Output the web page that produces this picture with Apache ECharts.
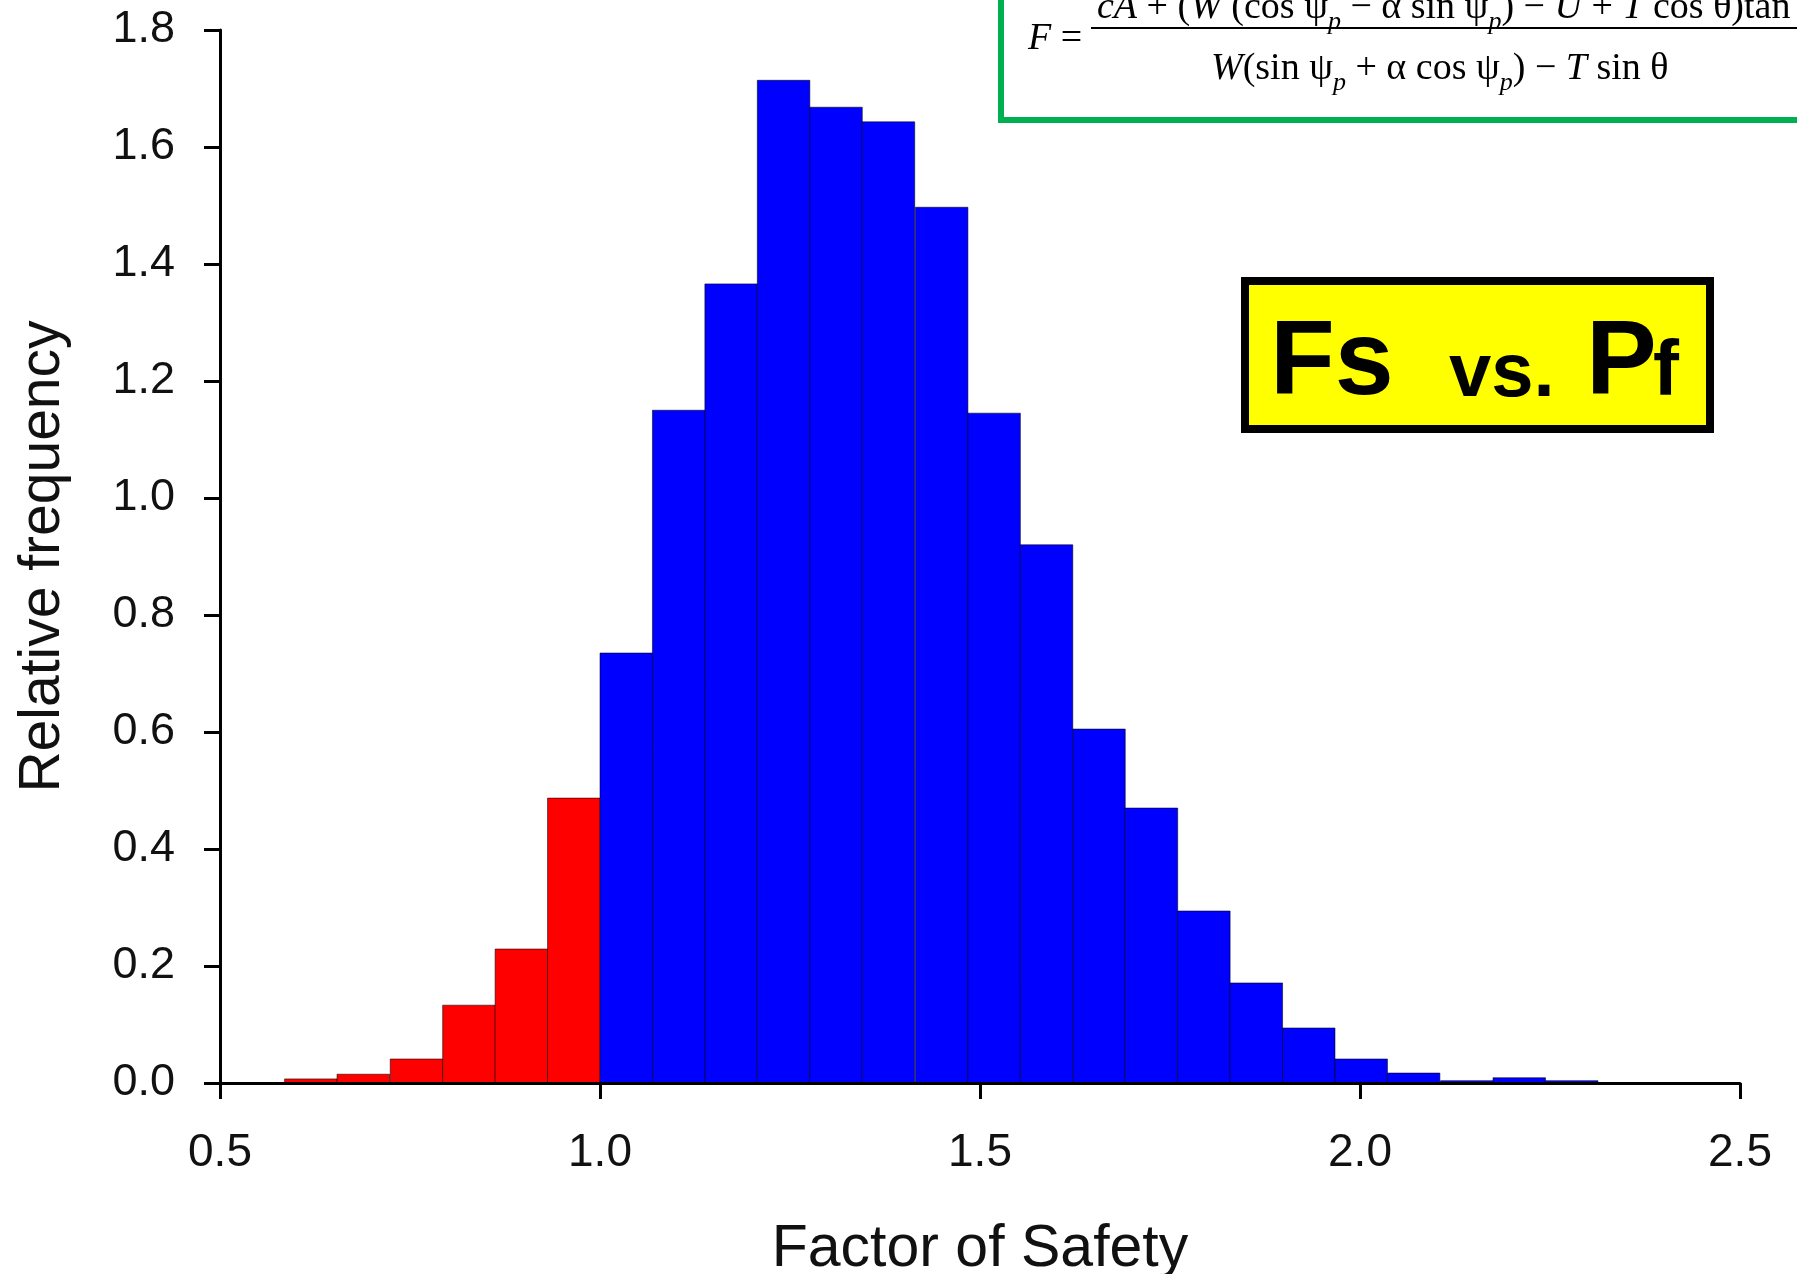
<!DOCTYPE html>
<html>
<head>
<meta charset="utf-8">
<script src="https://cdn.jsdelivr.net/npm/echarts@6/dist/echarts.min.js"></script>
<style>
html,body{margin:0;padding:0;background:#fff}
#main{width:1797px;height:1274px}
</style>
</head>
<body>
<div id="main"></div>
<script>
// histogram of factor of safety, bins
var binStarts = [0.585, 0.654, 0.724, 0.793, 0.862, 0.931, 1.000, 1.069, 1.138, 1.207,
                 1.276, 1.345, 1.415, 1.484, 1.553, 1.622, 1.691, 1.760, 1.829, 1.898,
                 1.967, 2.036, 2.106, 2.175, 2.244];
var binWidth = 0.0691;
var relFreq = [0.007, 0.015, 0.041, 0.133, 0.229, 0.487, 0.735, 1.150, 1.366, 1.714,
               1.668, 1.643, 1.497, 1.145, 0.920, 0.605, 0.470, 0.294, 0.171, 0.094,
               0.041, 0.017, 0.004, 0.009, 0.004];
var failLimit = 1.0;   // Fs < 1 -> failure (red)

var sans = "'Liberation Sans', Arial, Helvetica, sans-serif";
var serif = "'Liberation Serif', 'Times New Roman', serif";

var chart = echarts.init(document.getElementById('main'));

var data = binStarts.map(function (s, i) { return [s, s + binWidth, relFreq[i]]; });

// middle-aligned text, y given as baseline
function midY(baseline, size) { return baseline - 0.3465 * size; }

var fracRich = {
    n: {fontFamily: serif, fontSize: 38, lineHeight: 38, verticalAlign: 'top', color: '#000'},
    i: {fontFamily: serif, fontSize: 38, lineHeight: 38, verticalAlign: 'top', fontStyle: 'italic', color: '#000'},
    s: {fontFamily: serif, fontSize: 26, lineHeight: 46, verticalAlign: 'bottom', fontStyle: 'italic', color: '#000'}
};

chart.setOption({
    backgroundColor: '#fff',
    animation: false,
    grid: {left: 220, right: 57, top: 30, bottom: 191, outerBoundsMode: 'none', containLabel: false},
    xAxis: {
        type: 'value', min: 0.5, max: 2.5, interval: 0.5, z: 10,
        name: 'Factor of Safety', nameLocation: 'middle', nameGap: 137,
        nameTextStyle: {fontFamily: sans, fontSize: 59, color: '#111'},
        axisLine: {lineStyle: {color: '#000', width: 3}},
        axisTick: {length: 16, lineStyle: {color: '#000', width: 3}},
        axisLabel: {fontFamily: sans, fontSize: 46, color: '#111', margin: 47,
            formatter: function (v) { return v.toFixed(1); }},
        splitLine: {show: false}
    },
    yAxis: {
        type: 'value', min: 0, max: 1.8, interval: 0.2, z: 10,
        name: 'Relative frequency', nameLocation: 'middle', nameGap: 148,
        nameTextStyle: {fontFamily: sans, fontSize: 57, color: '#111'},
        axisLine: {show: true, lineStyle: {color: '#000', width: 3}},
        axisTick: {show: true, length: 16, lineStyle: {color: '#000', width: 3}},
        axisLabel: {fontFamily: sans, fontSize: 45, color: '#111', margin: 45,
            formatter: function (v) { return v.toFixed(1); }},
        splitLine: {show: false}
    },
    series: [{
        type: 'custom',
        data: data,
        encode: {x: [0, 1], y: 2},
        renderItem: function (params, api) {
            var p0 = api.coord([api.value(0), api.value(2)]);
            var p1 = api.coord([api.value(1), 0]);
            var failed = api.value(0) < failLimit - 0.01;
            return {
                type: 'rect',
                shape: {x: p0[0], y: p0[1], width: p1[0] - p0[0], height: p1[1] - p0[1]},
                style: {fill: failed ? '#ff0000' : '#0000ff', stroke: 'rgba(0,0,0,0.55)', lineWidth: 1}
            };
        }
    }],
    graphic: [
        // formula box (runs off the top and right edge)
        {type: 'rect', z: 20, shape: {x: 1001, y: -20, width: 900, height: 140},
            style: {fill: '#fff', stroke: '#00b050', lineWidth: 6}},
        {type: 'text', z: 21, x: 1028, y: midY(52, 38),
            style: {text: '{i|F} =', rich: {i: fracRich.i, n: fracRich.n}, fontFamily: serif, fontSize: 38,
                verticalAlign: 'middle', fill: '#000'}},
        {type: 'line', z: 21, shape: {x1: 1091, y1: 28, x2: 1800, y2: 28}, style: {stroke: '#000', lineWidth: 2}},
        {type: 'text', z: 21, x: 1097, y: -11,
            style: {text: '{i|cA}{n| + (}{i|W}{n| (cos ψ}{s|p}{n| − α sin ψ}{s|p}{n|) − }{i|U}{n| + }{i|T}{n| cos θ)tan φ}',
                rich: fracRich, verticalAlign: 'top'}},
        {type: 'text', z: 21, x: 1211, y: 50,
            style: {text: '{i|W}{n|(sin ψ}{s|p}{n| + α cos ψ}{s|p}{n|) − }{i|T}{n| sin θ}',
                rich: fracRich, verticalAlign: 'top'}},
        // Fs vs. Pf label
        {type: 'rect', z: 20, shape: {x: 1245, y: 281, width: 465, height: 148},
            style: {fill: '#ffff00', stroke: '#000', lineWidth: 8}},
        {type: 'text', z: 21, x: 1270, y: midY(401, 106),
            style: {text: 'Fs', font: 'bold 106px ' + sans, verticalAlign: 'middle', fill: '#000'}},
        {type: 'text', z: 21, x: 1449, y: midY(401, 76),
            style: {text: 'vs.', font: 'bold 76px ' + sans, verticalAlign: 'middle', fill: '#000'}},
        {type: 'text', z: 21, x: 1586, y: midY(401, 106),
            style: {text: 'P', font: 'bold 106px ' + sans, verticalAlign: 'middle', fill: '#000'}},
        {type: 'text', z: 21, x: 1653, y: midY(401, 78),
            style: {text: 'f', font: 'bold 78px ' + sans, verticalAlign: 'middle', fill: '#000'}}
    ]
});
</script>
</body>
</html>
